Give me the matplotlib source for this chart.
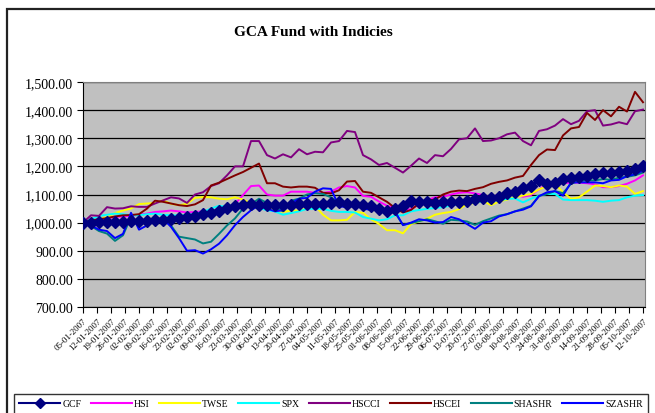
import matplotlib
matplotlib.use("Agg")
import matplotlib.pyplot as plt
from matplotlib.ticker import FuncFormatter, MultipleLocator
from matplotlib.patches import Rectangle
from matplotlib.lines import Line2D
import pandas as pd

plt.rcParams['font.family'] = ['Liberation Serif', 'DejaVu Serif']

dates = pd.date_range('2007-01-05', periods=71, freq='4D')
tick_dates = pd.date_range('2007-01-05', periods=41, freq='7D')

GCF = [1000, 1000, 1002, 1002, 1003, 1004, 1005, 1005, 1007, 1008, 1011, 1014, 1017, 1020, 1025, 1029,
       1036, 1043, 1052, 1060, 1064, 1067, 1064, 1061, 1061, 1061, 1063, 1066, 1067, 1067, 1068, 1071,
       1073, 1068, 1066, 1061,
       1058, 1050, 1040, 1048, 1060, 1078, 1074, 1072, 1070, 1073, 1072, 1074, 1078, 1084, 1086, 1088,
       1092, 1104, 1110, 1122, 1130, 1152, 1138, 1140, 1155, 1158, 1162, 1165, 1172, 1176, 1178, 1180,
       1184, 1190, 1200]
HSI = [1000, 1005, 1012, 1016, 1020, 1022, 1024, 1028, 1032, 1038, 1040, 1043, 1040, 1036, 1038, 1040,
       1042, 1048, 1055, 1066, 1098, 1130, 1132, 1100, 1096, 1096, 1110, 1110, 1110, 1106, 1106, 1110,
       1125, 1130, 1125, 1095,
       1092, 1075, 1060, 1052, 1045, 1048, 1065, 1080, 1090, 1092, 1100, 1106, 1108, 1104, 1098, 1090,
       1100, 1105, 1100, 1092, 1098, 1118, 1138, 1140, 1140, 1142, 1142, 1140, 1136, 1126, 1126, 1130,
       1138, 1150, 1168]
TWSE = [1000, 1005, 1012, 1020, 1034, 1043, 1050, 1066, 1068, 1070, 1079, 1067, 1062, 1067, 1088, 1091,
        1090, 1085, 1083, 1090, 1082, 1068, 1058, 1052, 1044, 1038, 1043, 1043, 1050, 1060, 1028, 1008,
        1008, 1010, 1038, 1035,
        1012, 995, 973, 973, 962, 995, 1004, 1014, 1028, 1034, 1038, 1048, 1066, 1070, 1078, 1062,
        1075, 1082, 1091, 1096, 1102, 1118, 1130, 1138, 1108, 1085, 1090, 1110, 1132, 1130, 1126, 1132,
        1128, 1102, 1112]
SPX = [1000, 1012, 1024, 1028, 1032, 1030, 1026, 1026, 1030, 1032, 1028, 1026, 1026, 1026, 1032, 1038,
       1050, 1060, 1056, 1066, 1064, 1061, 1052, 1044, 1040, 1028, 1034, 1040, 1049, 1049, 1049, 1042,
       1038, 1038, 1036, 1020,
       1014, 1008, 1012, 1026, 1026, 1040, 1045, 1049, 1052, 1055, 1060, 1067, 1070, 1073, 1075, 1078,
       1080, 1084, 1086, 1072, 1085, 1096, 1102, 1102, 1082, 1080, 1080, 1080, 1078, 1074, 1078, 1080,
       1090, 1096, 1098]
HSCCI = [1000, 1026, 1024, 1055, 1050, 1051, 1058, 1056, 1056, 1068, 1079, 1090, 1086, 1070, 1100, 1108,
         1130, 1140, 1168, 1200, 1200, 1290, 1290, 1240, 1228, 1243, 1232, 1261, 1243, 1252, 1250, 1285,
         1290, 1326, 1322, 1240,
         1225, 1205, 1212, 1195, 1178, 1202, 1228, 1212, 1240, 1236, 1262, 1296, 1300, 1335, 1290, 1292,
         1300, 1314, 1320, 1290, 1275, 1326, 1332, 1345, 1368, 1350, 1362, 1396, 1400, 1345, 1349, 1357,
         1350, 1396, 1402]
HSCEI = [1000, 1008, 1012, 1016, 1022, 1026, 1027, 1030, 1050, 1078, 1074, 1068, 1062, 1059, 1065, 1080,
         1132, 1142, 1155, 1168, 1180, 1195, 1210, 1140, 1140, 1128, 1125, 1128, 1128, 1124, 1106, 1104,
         1115, 1146, 1148, 1110,
         1106, 1090, 1074, 1052, 1036, 1045, 1068, 1079, 1082, 1100, 1110, 1114, 1112, 1120, 1126, 1138,
         1145, 1150, 1160, 1166, 1205, 1240, 1260, 1258, 1310, 1335, 1340, 1390, 1365, 1400, 1378, 1412,
         1395, 1465, 1428]
SHASHR = [1000, 988, 970, 961, 935, 955, 1020, 995, 1008, 1012, 1015, 990, 950, 945, 940, 926,
          932, 960, 990, 1015, 1050, 1066, 1085, 1070, 1055, 1040, 1078, 1085, 1100, 1105, 1102, 1090,
          1072, 1058, 1060, 1055,
          1052, 1048, 1040, 1035, 992, 998, 1005, 1012, 1005, 996, 1010, 1008, 1004, 992, 1005, 1015,
          1025, 1030, 1040, 1050, 1060, 1095, 1102, 1112, 1105, 1138, 1148, 1150, 1150, 1155, 1152, 1160,
          1163, 1168, 1178]
SZASHR = [1000, 990, 975, 970, 945, 960, 1035, 975, 990, 1008, 1014, 985, 945, 900, 902, 890,
          905, 925, 955, 991, 1020, 1044, 1061, 1050, 1040, 1044, 1068, 1085, 1088, 1110, 1122, 1120,
          1058, 1055, 1060, 1050,
          1045, 1048, 1045, 1040, 991, 1000, 1012, 1008, 1000, 1002, 1020, 1012, 995, 978, 1000, 1005,
          1022, 1030, 1040, 1046, 1058, 1094, 1108, 1112, 1096, 1143, 1143, 1143, 1143, 1140, 1150, 1152,
          1165, 1172, 1185]

series_names = ['GCF', 'HSI', 'TWSE', 'SPX', 'HSCCI', 'HSCEI', 'SHASHR', 'SZASHR']
series_values = [GCF, HSI, TWSE, SPX, HSCCI, HSCEI, SHASHR, SZASHR]
colors = ['#000080', '#FF00FF', '#FFFF00', '#00FFFF', '#800080', '#800000', '#008080', '#0000FF']

fig = plt.figure(figsize=(6.55, 4.14), dpi=100)
fig.patch.set_facecolor('white')

# outer chart frame
fig.patches.append(Rectangle((7/655, -0.05), 1.2, 1 - 10/414 + 0.05, transform=fig.transFigure,
                             fill=False, edgecolor='#222222', linewidth=1.6, zorder=0))

ax = fig.add_axes([83/655, 1 - 308/414, (645 - 83)/655, (308 - 83)/414])
ax.set_facecolor('#C0C0C0')

handles = []
for name, vals, c in zip(series_names, series_values, colors):
    if name == 'GCF':
        ax.plot(dates, vals, color=c, lw=2.5, marker='D', markersize=6.5,
                markeredgecolor=c, markerfacecolor=c, zorder=10)
        h = Line2D([], [], color=c, lw=1.5, marker='D', markersize=5,
                   markerfacecolor=c, markeredgecolor=c)
    else:
        ax.plot(dates, vals, color=c, lw=1.4, zorder=5)
        h = Line2D([], [], color=c, lw=1.5)
    handles.append(h)

ax.set_ylim(700, 1500)
ax.yaxis.set_major_locator(MultipleLocator(100))
ax.yaxis.set_major_formatter(FuncFormatter(lambda v, p: f"{v:,.2f}"))
ax.grid(axis='y', color='black', linewidth=0.9)
ax.set_axisbelow(True)

ax.set_xlim(dates[0], dates[-1] + pd.Timedelta(days=1))
ax.set_xticks(tick_dates)
ax.set_xticklabels([d.strftime('%d-%m-%Y') for d in tick_dates], rotation=45, ha='right',
                   rotation_mode='anchor', fontsize=6.3)

ax.tick_params(axis='y', labelsize=10, length=4, direction='out', pad=3)
ax.tick_params(axis='x', length=4, direction='out', pad=3)

for s in ['top', 'right']:
    ax.spines[s].set_color('#808080')
for s in ['left', 'bottom']:
    ax.spines[s].set_color('black')

fig.text(313/655, 1 - 33/414, 'GCA Fund with Indicies', ha='center', va='center',
         fontsize=11, fontweight='bold')

leg = fig.legend(handles, series_names, loc='center', bbox_to_anchor=(331/655, 1 - 405/414),
                 ncol=8, fontsize=7, frameon=True, fancybox=False, edgecolor='black',
                 handlelength=4.2, handletextpad=0.2, columnspacing=1.0, borderpad=0.6,
                 borderaxespad=0)
leg.get_frame().set_linewidth(1.0)

fig.savefig('out.png', dpi=100)
